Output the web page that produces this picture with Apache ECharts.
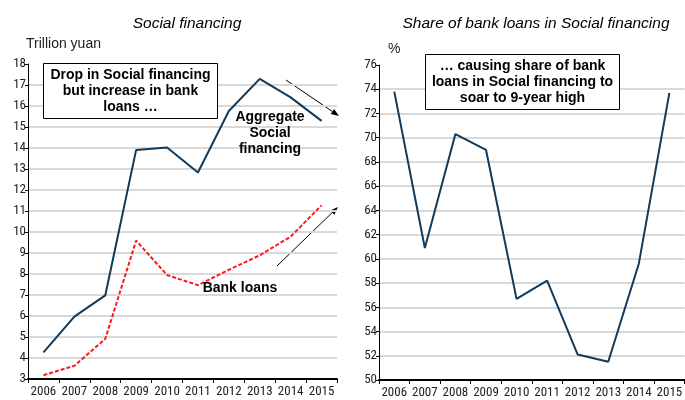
<!DOCTYPE html>
<html><head><meta charset="utf-8">
<script src="https://cdn.jsdelivr.net/npm/echarts@6/dist/echarts.min.js"></script>
<style>html,body{margin:0;padding:0;background:#fff}#c{width:685px;height:400px}</style>
</head><body><div id="c"></div>
<script>
const years = ['2006','2007','2008','2009','2010','2011','2012','2013','2014','2015'];
const aggregateSF = [4.27, 5.97, 6.98, 13.91, 14.02, 12.83, 15.76, 17.29, 16.41, 15.29];
const bankLoans = [3.18, 3.63, 4.91, 9.59, 7.95, 7.47, 8.20, 8.89, 9.78, 11.27];
const loanShare = [73.8, 60.9, 70.3, 69.0, 56.7, 58.2, 52.1, 51.5, 59.6, 73.7];

const narrow = "'Roboto Condensed','Liberation Sans',sans-serif";
const sans = "'Liberation Sans',Arial,sans-serif";
const navy = '#123a5a';

function arrow(x1,y1,x2,y2){
  const a = Math.atan2(y2-y1,x2-x1), L=8, W=3;
  const bx = x2 - L*Math.cos(a), by = y2 - L*Math.sin(a);
  const px = -Math.sin(a)*W, py = Math.cos(a)*W;
  return [
    {type:'line', shape:{x1,y1,x2:bx,y2:by}, style:{stroke:'#000',lineWidth:1}},
    {type:'polygon', shape:{points:[[x2,y2],[bx+px,by+py],[bx-px,by-py]]}, style:{fill:'#000'}}
  ];
}

const yAxisCommon = {
  type:'value',
  axisLine:{show:true, lineStyle:{color:'#000', width:1}},
  axisTick:{show:true, length:3, lineStyle:{color:'#000'}},
  axisLabel:{fontFamily:narrow, fontSize:13, color:'#222', margin:2},
  splitLine:{show:true, showMaxLine:false, lineStyle:{color:'#d9d9d9', width:2}}
};
const xAxisCommon = {
  type:'category', data:years, boundaryGap:true,
  axisLine:{show:true, lineStyle:{color:'#000', width:2}},
  axisTick:{show:true, length:4, lineStyle:{color:'#000', width:1}},
  axisLabel:{fontFamily:narrow, fontSize:13, color:'#222', margin:6, interval:0}
};

const chart = echarts.init(document.getElementById('c'));
chart.setOption({
  animation:false,
  title:[
    {text:'Social financing', left:182, top:11, textAlign:'center', textStyle:{fontFamily:sans, fontStyle:'italic', fontWeight:'normal', fontSize:15.5, color:'#000'}},
    {text:'Share of bank loans in Social financing', left:531, top:11, textAlign:'center', textStyle:{fontFamily:sans, fontStyle:'italic', fontWeight:'normal', fontSize:15.5, color:'#000'}}
  ],
  grid:[
    {left:28, right:348, top:64, bottom:21},
    {left:379, right:-4, top:65, bottom:20}
  ],
  xAxis:[
    Object.assign({gridIndex:0}, xAxisCommon),
    Object.assign({gridIndex:1}, xAxisCommon)
  ],
  yAxis:[
    Object.assign({gridIndex:0, min:3, max:18, interval:1, name:'Trillion yuan', nameLocation:'end', nameGap:13,
      nameTextStyle:{fontFamily:sans, fontSize:14, color:'#222', align:'left', padding:[0,0,0,-2]}}, yAxisCommon),
    Object.assign({gridIndex:1, min:50, max:76, interval:2, name:'%', nameLocation:'end', nameGap:9,
      nameTextStyle:{fontFamily:sans, fontSize:14, color:'#222', align:'left', padding:[0,0,0,9]}}, yAxisCommon)
  ],
  series:[
    {name:'Aggregate Social financing', type:'line', xAxisIndex:0, yAxisIndex:0, data:aggregateSF, symbol:'none', lineStyle:{color:navy, width:2}},
    {name:'Bank loans', type:'line', xAxisIndex:0, yAxisIndex:0, data:bankLoans, symbol:'none', lineStyle:{color:'#ff1a1a', width:2, type:[4,2]}},
    {name:'Share of bank loans', type:'line', xAxisIndex:1, yAxisIndex:1, data:loanShare, symbol:'none', lineStyle:{color:navy, width:2}}
  ],
  graphic:[
    {type:'rect', shape:{x:43.5, y:63.5, width:174, height:55}, style:{fill:'#fff', stroke:'#000', lineWidth:1}, z:10},
    {type:'text', x:130.5, y:91, z:11, style:{text:'Drop in Social financing\nbut increase in bank\nloans …', fontFamily:sans, fontWeight:'bold', fontSize:14, lineHeight:16, align:'center', verticalAlign:'middle', fill:'#000'}},
    {type:'rect', shape:{x:425.5, y:54.5, width:194, height:55}, style:{fill:'#fff', stroke:'#000', lineWidth:1}, z:10},
    {type:'text', x:522.5, y:82, z:11, style:{text:'… causing share of bank\nloans in Social financing to\nsoar to 9-year high', fontFamily:sans, fontWeight:'bold', fontSize:14, lineHeight:16, align:'center', verticalAlign:'middle', fill:'#000'}},
    {type:'text', x:270, y:133, z:11, style:{text:'Aggregate\nSocial\nfinancing', fontFamily:sans, fontWeight:'bold', fontSize:14, lineHeight:16, align:'center', verticalAlign:'middle', fill:'#000'}},
    {type:'text', x:240, y:288, z:11, style:{text:'Bank loans', fontFamily:sans, fontWeight:'bold', fontSize:14, align:'center', verticalAlign:'middle', fill:'#000'}}
  ].concat(arrow(286,80,339,116)).concat(arrow(277,266,338,207))
});
</script></body></html>
